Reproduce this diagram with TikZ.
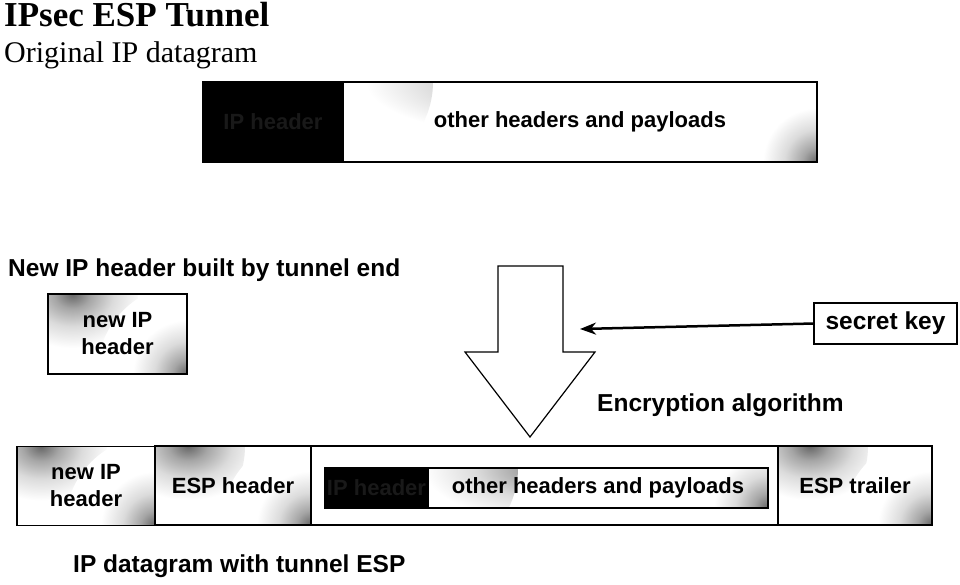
\documentclass[tikz,border=0pt]{standalone}
\usepackage{fontspec}
\setmainfont{Liberation Serif}
\setsansfont{Liberation Sans}
\usetikzlibrary{arrows.meta,positioning}
\pgfdeclareradialshading{cornershade}{\pgfpoint{0bp}{0bp}}{%
  color(0bp)=(black!60); color(4bp)=(black!35); color(9bp)=(black!14);
  color(15bp)=(white); color(50bp)=(white)}
\tikzset{
  cell/.style={
    draw,
    line width = 1.2pt,
    inner sep = 0pt,
    outer sep = 0pt,
    align = center,
    font = \fontsize{22}{26}\selectfont\sffamily\bfseries,
    fill = white,
    path picture = {
      \shade[shading=cornershade]
        (path picture bounding box.north west) circle (90pt);
      \shade[shading=cornershade]
        (path picture bounding box.south east) circle (90pt);
    }
  },
  plain/.style={
    draw,
    line width = 1.2pt,
    inner sep = 0pt,
    outer sep = 0pt,
    fill = white
  },
  blackcell/.style={
    draw,
    fill = black,
    line width = 1.2pt,
    inner sep = 0pt,
    outer sep = 0pt,
    text = black!90,
    font = \fontsize{22}{26}\selectfont\sffamily\bfseries
  },
  caption/.style={
    anchor = west,
    inner sep = 0pt,
    font = \fontsize{24.5}{28}\selectfont\sffamily\bfseries
  },
}

\begin{document}
\begin{tikzpicture}[x=1pt,y=-1pt]
	\useasboundingbox (0,0) rectangle (960,584);
	% titles
	\node[anchor=west, inner sep=0pt, font=\fontsize{35}{38}\selectfont\bfseries] (title) at (4,15) {IPsec ESP Tunnel};
	\node[anchor=west, inner sep=0pt, font=\fontsize{30}{34}\selectfont] (orig) at (4,55) {Original IP datagram};
	% original datagram
	\node[blackcell, minimum width=140, minimum height=80] (iphdr) at (273,122) {IP header};
	\node[cell, minimum width=474, minimum height=80] (payload) at (580,122) {other headers and payloads};
	% new header
	\node[caption] (newcap) at (8,270) {New IP header built by tunnel end};
	\node[cell, minimum width=139, minimum height=80, font=\fontsize{22}{27}\selectfont\sffamily\bfseries] (newhdr) at (117.5,334) {new IP\\header};
	% encryption arrow
	\coordinate (a1) at (498,266);
	\coordinate (a2) at (563,266);
	\draw[line width=1.2pt, fill=white] (a1) -- (a2) -- (563,352) -- (595,352) -- (530,437)
		-- (465,352) -- (498,352) -- cycle;
	\node[plain, minimum width=143, minimum height=41, font=\fontsize{24.5}{28}\selectfont\sffamily\bfseries] (key) at (885.5,323.5) {secret key};
	\coordinate (keyend) at (580,329);
	\draw[line width=2.5pt, -{Stealth[length=16pt, width=12pt, inset=5pt]}] (key.west) -- (keyend);
	\node[caption] (enc) at (597,405) {Encryption algorithm};
	% tunnel datagram
	\node[cell, minimum width=138, minimum height=79, font=\fontsize{22}{27}\selectfont\sffamily\bfseries] (tnew) at (86,486) {new IP\\header};
	\node[cell, minimum width=156, minimum height=79] (esph) at (233,485.5) {ESP header};
	\node[plain, minimum width=467, minimum height=79] (inner) at (544.5,485.5) {};
	\node[cell, minimum width=154, minimum height=79] (espt) at (855,485.5) {ESP trailer};
	\node[blackcell, minimum width=103, minimum height=40] (iphdr2) at (376.5,488) {IP header};
	\node[cell, minimum width=340, minimum height=40] (payload2) at (598,488) {other headers and payloads};
	\node[caption] (tuncap) at (73,566) {IP datagram with tunnel ESP};
\end{tikzpicture}
\end{document}
